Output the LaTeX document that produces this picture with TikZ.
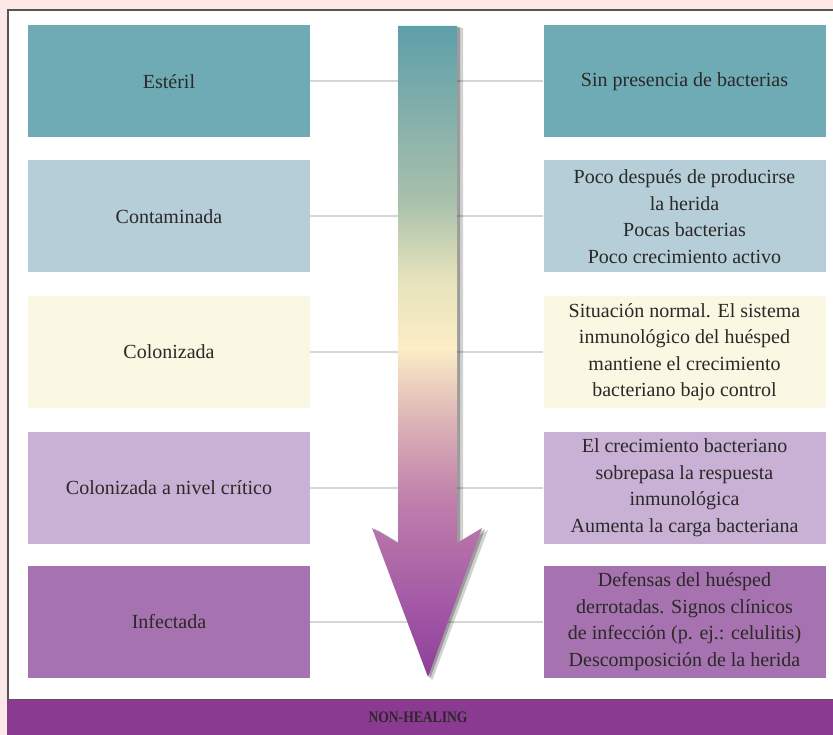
\documentclass[tikz,border=0pt]{standalone}
\usepackage{fontspec}
\setmainfont{Liberation Serif}
\usepackage{xcolor}
\usepackage{tikz}
\usetikzlibrary{positioning}

\definecolor{bgpink}{HTML}{FDE8E8}
\definecolor{paneledge}{HTML}{555555}
\definecolor{linegrey}{HTML}{D6D6D6}
\definecolor{textgrey}{HTML}{2B2828}
\definecolor{steril}{HTML}{6FABB5}
\definecolor{contam}{HTML}{B5CED8}
\definecolor{coloniz}{HTML}{FAF7E3}
\definecolor{critic}{HTML}{C9B1D5}
\definecolor{infect}{HTML}{A673B0}
\definecolor{barpurple}{HTML}{8B3A92}
% arrow colours, top to tip
\definecolor{arrA}{HTML}{5D9FAA}
\definecolor{arrB}{HTML}{A9C0AB}
\definecolor{arrC}{HTML}{E6E3BC}
\definecolor{arrD}{HTML}{FBEDC6}
\definecolor{arrE}{HTML}{DCB4B6}
\definecolor{arrF}{HTML}{C07FAC}
\definecolor{arrG}{HTML}{A45AA6}
\definecolor{arrH}{HTML}{8E3F9A}

\pgfdeclareverticalshading{woundshade}{100bp}{%
  color(0bp)=(arrH); color(25bp)=(arrH); color(30.9bp)=(arrG);
  color(38.6bp)=(arrF); color(44.7bp)=(arrE); color(50.3bp)=(arrD);
  color(55.5bp)=(arrC); color(61.6bp)=(arrB); color(75bp)=(arrA);
  color(100bp)=(arrA)}

\tikzset{
  stage/.style={rectangle, minimum width=282pt, minimum height=112pt,
    inner sep=0pt, text=textgrey, align=center,
    font=\fontsize{20}{26.5}\selectfont},
  link/.style={draw=linegrey, line width=2pt},
}

\begin{document}
\begin{tikzpicture}[x=1pt,y=-1pt]
  \useasboundingbox (0,0) rectangle (833,735);
  \fill[bgpink] (0,0) rectangle (833,735);
  % panel
  \draw[paneledge, line width=1.5pt, fill=white] (8,10) rectangle (845,700);
  % Estéril
  \node[stage, fill=steril] (esteril) at (169,81.5) {Estéril};
  \node[stage, fill=steril] (sinbact) at (684.5,81.5) {Sin presencia de bacterias};
  % Contaminada
  \node[stage, fill=contam] (contaminada) at (169,216.5) {Contaminada};
  \node[stage, fill=contam] (pocas) at (684.5,216.5)
    {Poco después de producirse\\la herida\\Pocas bacterias\\Poco crecimiento activo};
  % Colonizada
  \node[stage, fill=coloniz] (colonizada) at (169,352) {Colonizada};
  \node[stage, fill=coloniz] (normal) at (684.5,352)
    {Situación normal. El sistema\\inmunológico del huésped\\mantiene el crecimiento\\bacteriano bajo control};
  % Colonizada a nivel crítico
  \node[stage, fill=critic] (critica) at (169,487.5) {Colonizada a nivel crítico};
  \node[stage, fill=critic] (sobrepasa) at (684.5,487.5)
    {El crecimiento bacteriano\\sobrepasa la respuesta\\inmunológica\\Aumenta la carga bacteriana};
  % Infectada
  \node[stage, fill=infect] (infectada) at (169,621.5) {Infectada};
  \node[stage, fill=infect] (defensas) at (684.5,621.5)
    {Defensas del huésped\\derrotadas. Signos clínicos\\de infección (p. ej.: celulitis)\\Descomposición de la herida};
  % guide lines
  \draw[link] (esteril) -- (sinbact);
  \draw[link] (contaminada) -- (pocas);
  \draw[link] (colonizada) -- (normal);
  \draw[link] (critica) -- (sobrepasa);
  \draw[link] (infectada) -- (defensas);
  % arrow shadow
  \fill[black, opacity=0.18] (403,28) -- (463,28) -- (463,545) -- (488,530) -- (432,681)
    -- (378,530) -- (403,545) -- cycle;
  \fill[black, opacity=0.25] (400,27) -- (460,27) -- (460,544) -- (485,529) -- (430,679)
    -- (375,529) -- (400,544) -- cycle;
  % arrow
  \shade[shading=woundshade] (398,26) -- (457,26) -- (457,543) -- (482,528) -- (428,677)
    -- (372,528) -- (398,543) -- cycle;
  % bottom bar
  \fill[barpurple] (7,700) rectangle (845,740);
  \node[text=textgrey, font=\fontsize{16}{18}\selectfont\bfseries] (nonhealing) at (418,717.5)
    {\scalebox{0.85}[1]{NON-HEALING}};
\end{tikzpicture}
\end{document}
